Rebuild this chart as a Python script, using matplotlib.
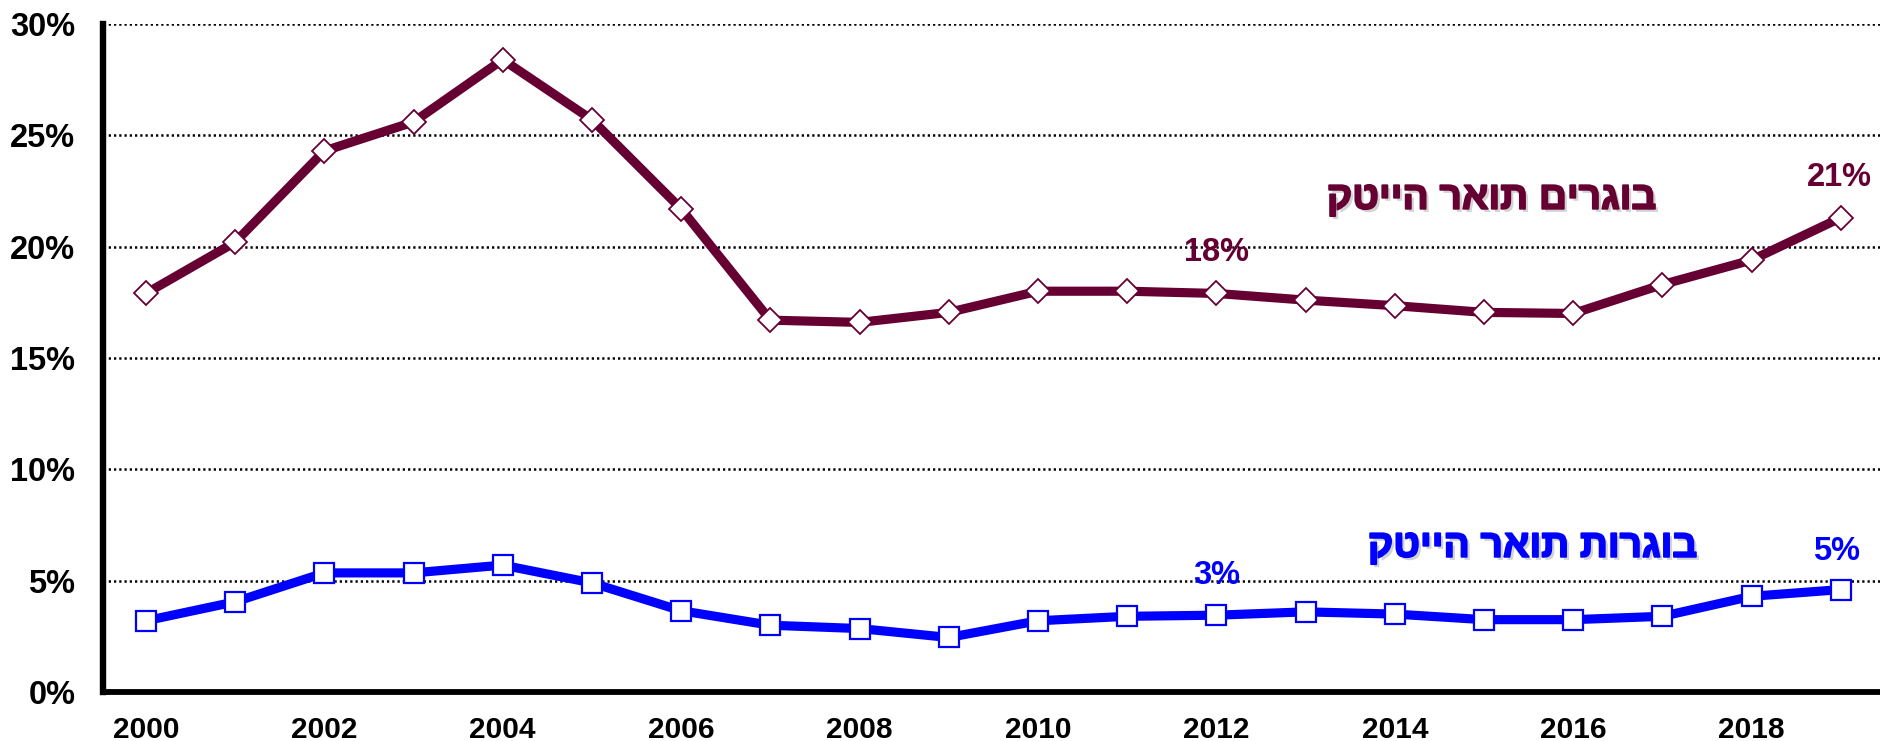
import matplotlib
matplotlib.use("Agg")
import matplotlib.pyplot as plt
import matplotlib.patheffects as pe
from matplotlib.ticker import FuncFormatter

plt.rcParams['font.family'] = ['Liberation Sans', 'DejaVu Sans']

years = list(range(2000, 2020))
men = [17.9, 20.2, 24.3, 25.6, 28.4, 25.7, 21.7, 16.7, 16.6, 17.05, 18.0, 18.0,
       17.9, 17.6, 17.35, 17.05, 17.0, 18.3, 19.4, 21.3]
women = [3.2, 4.05, 5.35, 5.35, 5.7, 4.9, 3.65, 3.0, 2.85, 2.45, 3.2, 3.4,
         3.45, 3.6, 3.5, 3.25, 3.25, 3.4, 4.3, 4.6]
yticks = [0, 5, 10, 15, 20, 25, 30]
xticks = [2000, 2002, 2004, 2006, 2008, 2010, 2012, 2014, 2016, 2018]
men_label = "בוגרים תואר הייטק"
women_label = "בוגרות תואר הייטק"

MAROON = "#660033"
BLUE = "#0000FF"

def rtl(s):
    return s[::-1]

fig = plt.figure(figsize=(18.81, 7.41), dpi=100)
ax = fig.add_axes([0.0548, 0.0661, 0.9452, 0.9015])

ax.plot(years, men, color=MAROON, lw=6.6, marker='D', ms=12,
        mfc='white', mec=MAROON, mew=1.3, zorder=3)
ax.plot(years, women, color=BLUE, lw=6.6, marker='s', ms=14.5,
        mfc='white', mec=BLUE, mew=1.6, zorder=3)

ax.set_xlim(1999.52, 2019.45)
ax.set_ylim(0, 30)
ax.set_yticks(yticks)
ax.set_xticks(xticks)
ax.yaxis.set_major_formatter(FuncFormatter(lambda v, p: f"{v:.0f}%"))
ax.tick_params(axis='both', length=0)
ax.tick_params(axis='y', pad=20, labelsize=23.5)
ax.tick_params(axis='x', pad=17, labelsize=21.5)
for lab in ax.get_xticklabels() + ax.get_yticklabels():
    lab.set_fontweight('bold')

ax.grid(axis='y', color='black', lw=1.8, linestyle=(0, (0.9, 1.2)), zorder=1)
ax.set_axisbelow(True)
for s in ['top', 'right']:
    ax.spines[s].set_visible(False)
ax.spines['left'].set_linewidth(4.6)
ax.spines['bottom'].set_linewidth(4.2)
for s in ['left', 'bottom']:
    ax.spines[s].set_color('black')
    ax.spines[s].set_zorder(4)

def effects(color):
    return [pe.SimplePatchShadow(offset=(2.2, -2.2), shadow_rgbFace='gray', alpha=0.35),
            pe.withStroke(linewidth=1.3, foreground=color)]

ax.text(2015.08, 22.15, rtl(men_label), color=MAROON, fontsize=28, fontweight='bold',
        ha='center', va='center', path_effects=effects(MAROON))
ax.text(2015.54, 6.52, rtl(women_label), color=BLUE, fontsize=28, fontweight='bold',
        ha='center', va='center', path_effects=effects(BLUE))

ax.text(2012, 19.75, "18%", color=MAROON, fontsize=23.5, fontweight='bold', ha='center', va='center')
ax.text(2018.98, 23.1, "21%", color=MAROON, fontsize=23.5, fontweight='bold', ha='center', va='center')
ax.text(2012, 5.25, "3%", color=BLUE, fontsize=23.5, fontweight='bold', ha='center', va='center')
ax.text(2018.95, 6.3, "5%", color=BLUE, fontsize=23.5, fontweight='bold', ha='center', va='center')

fig.savefig("out.png", dpi=100)
